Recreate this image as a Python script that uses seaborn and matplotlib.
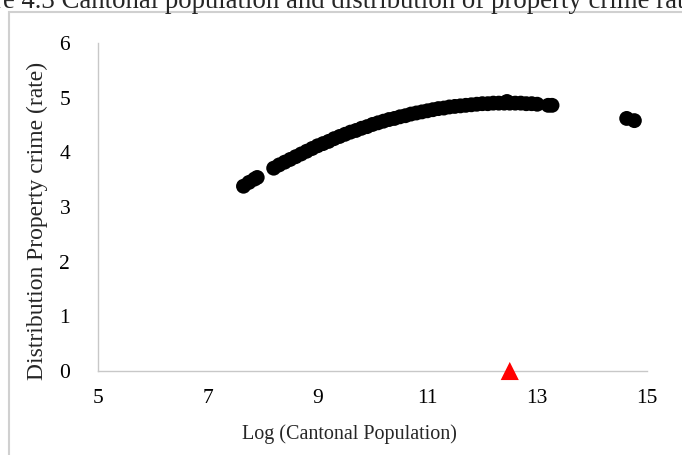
import matplotlib
matplotlib.use("Agg")
import matplotlib.pyplot as plt
import seaborn as sns
import pandas as pd
from matplotlib.patches import Rectangle

# Data
log_pop = [7.65, 7.75, 7.85, 7.9,
           8.2, 8.3, 8.4, 8.5, 8.6, 8.7, 8.8, 8.9, 9.0, 9.1, 9.2, 9.3, 9.4, 9.5,
           9.6, 9.7, 9.8, 9.9, 10.0, 10.1, 10.2, 10.3, 10.4, 10.5, 10.6, 10.7,
           10.8, 10.9, 11.0, 11.1, 11.2, 11.3, 11.4, 11.5, 11.6, 11.7, 11.8,
           11.9, 12.0, 12.1, 12.2, 12.3, 12.4, 12.45, 12.5, 12.6, 12.7, 12.8,
           12.9, 13.0, 13.2, 13.27, 14.63, 14.77]
crime_rate = [3.38, 3.45, 3.51, 3.54,
              3.71, 3.77, 3.82, 3.87, 3.92, 3.97, 4.02, 4.07, 4.12, 4.16, 4.20, 4.25, 4.29, 4.33,
              4.37, 4.40, 4.44, 4.47, 4.51, 4.54, 4.57, 4.60, 4.62, 4.65, 4.67, 4.70,
              4.72, 4.74, 4.76, 4.78, 4.80, 4.81, 4.83, 4.84, 4.85, 4.86, 4.87,
              4.88, 4.89, 4.89, 4.90, 4.90, 4.90, 4.93, 4.90, 4.90, 4.90, 4.89,
              4.89, 4.88, 4.86, 4.86, 4.62, 4.58]
marker_x = [12.5]
marker_y = [0.0]
x_ticks = [5, 7, 9, 11, 13, 15]
y_ticks = [0, 1, 2, 3, 4, 5, 6]

sns.set_style("white")
plt.rcParams['font.family'] = ['Liberation Serif', 'DejaVu Serif']

fig = plt.figure(figsize=(6.82, 4.55), dpi=100)
ax = fig.add_axes([98/682, (455-371)/455, 549/682, 328/455])

df = pd.DataFrame({"x": log_pop, "y": crime_rate})
sns.scatterplot(data=df, x="x", y="y", ax=ax, color="black", s=115,
                edgecolor="none", linewidth=0)
dm = pd.DataFrame({"x": marker_x, "y": marker_y})
sns.scatterplot(data=dm, x="x", y="y", ax=ax, color="#ff0000", marker="^",
                s=170, edgecolor="none", linewidth=0, clip_on=False, zorder=5)

ax.set_xlim(5, 15)
ax.set_ylim(0, 6)
ax.set_xticks(x_ticks)
ax.set_yticks(y_ticks)
ax.set_xticklabels([str(t) for t in x_ticks])
ax.set_yticklabels([str(t) for t in y_ticks])
ax.tick_params(axis='both', length=0, labelsize=15.5, colors="black")
ax.tick_params(axis='x', pad=13)
ax.tick_params(axis='y', pad=20)
for s in ["top", "right"]:
    ax.spines[s].set_visible(False)
for s in ["left", "bottom"]:
    ax.spines[s].set_color("#c8c8c8")
    ax.spines[s].set_linewidth(1.0)
ax.set_xlabel("Log (Cantonal Population)", fontsize=14.5)
ax.set_ylabel("Distribution Property crime (rate)", fontsize=17)
ax.xaxis.set_label_coords((349 - 98) / 549, -(424 - 371) / 328)
ax.yaxis.set_label_coords((48 - 98) / 549, (371 - 221) / 328)

# surrounding frame of the document figure
fig.patches.append(Rectangle((9/682, -0.1), 1.2, (455-11.5)/455 + 0.1,
                             transform=fig.transFigure, fill=False,
                             edgecolor="#d0d0d0", linewidth=1.5))
fig.text(-55/682, 1 - 8/455, "Figure 4.3 Cantonal population and distribution of property crime rate",
         ha="left", va="baseline", fontsize=19.3)

fig.savefig("out.png", dpi=100)
